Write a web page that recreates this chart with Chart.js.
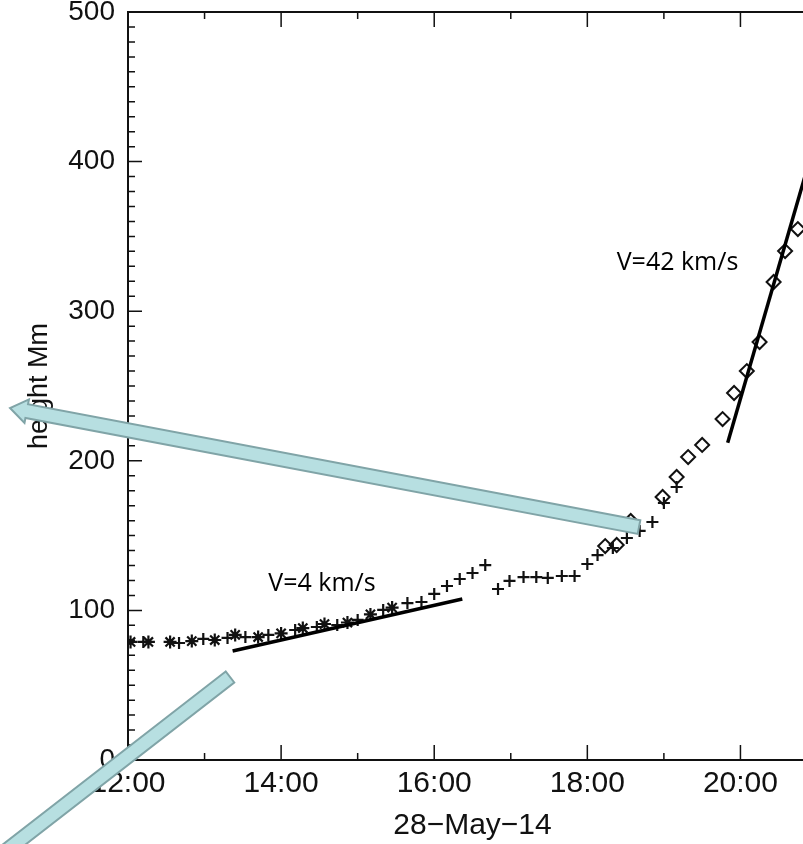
<!DOCTYPE html>
<html>
<head>
<meta charset="utf-8">
<script src="https://cdn.jsdelivr.net/npm/chart.js@4.4.1/dist/chart.umd.min.js"></script>
<style>
  html, body { margin: 0; padding: 0; background: #fff; overflow: hidden; }
  #wrap { width: 830px; height: 844px; }
</style>
</head>
<body>
<div id="wrap"><canvas id="chart" width="830" height="844"></canvas></div>
<script>
// asterisk track
const starTimes = ["12:02", "12:16", "12:33", "12:50", "13:08", "13:24", "13:42", "14:00", "14:17", "14:34", "14:52", "15:10", "15:27"]
const starHeights = [78.9, 78.9, 78.9, 79.5, 80.2, 83.6, 82.2, 84.6, 88.2, 90.9, 91.9, 97.3, 101.9]

// plus track
const plusTimes = ["12:12", "12:40", "12:59", "13:18", "13:32", "13:50", "14:11", "14:28", "14:44", "15:00",
  "15:20", "15:39", "15:50", "16:00", "16:10", "16:20", "16:30", "16:40", "16:50", "16:59",
  "17:10", "17:20", "17:29", "17:40", "17:50", "18:00", "18:08", "18:20", "18:31", "18:41",
  "18:51", "19:00", "19:10"]
const plusHeights = [78.9, 78.2, 80.9, 81.6, 82.2, 83.6, 86.9, 88.9, 90.2, 93.6,
  100.3, 104.9, 105.6, 111.0, 116.3, 121.0, 125.0, 130.3, 114.3, 119.7,
  122.3, 122.3, 121.7, 123.0, 123.0, 131.0, 137.0, 141.7, 148.4, 153.1,
  159.1, 171.8, 182.5]

// diamond track
const diamondTimes = ["18:14", "18:23", "18:34", "18:59", "19:10", "19:19", "19:30", "19:46", "19:55", "20:05", "20:15", "20:26", "20:35", "20:45"]
const diamondHeights = [143.0, 143.7, 159.8, 175.8, 189.2, 202.5, 210.6, 227.9, 245.3, 260.0, 279.4, 319.5, 340.2, 354.9]

// linear fits
const slowFitTimes = ["13:22", "16:22"]
const slowFitHeights = [72.9, 107.6]
const fastFitTimes = ["19:50", "21:00"]
const fastFitHeights = [212, 418]

const yTicks = [0, 100, 200, 300, 400, 500]

// annotations, in data units (hours, Mm)
const labels = [
  { text: "V=4 km/s", t: "13:50", h: 113 },
  { text: "V=42 km/s", t: "18:23", h: 327.5 }
]
const arrows = [
  { from: [18.675, 155.7], to: [10.459, 235.3], head: true },
  { from: [13.332, 55.5], to: [10.067, -74.2], head: false }
]

function hours(s) {
  const [h, m] = s.split(":").map(Number)
  return h + m / 60
}
function pts(times, heights) {
  return times.map((t, i) => ({ x: hours(t), y: heights[i] }))
}

function drawArrow(ctx, x1, y1, x2, y2, head) {
  const len = Math.hypot(x2 - x1, y2 - y1)
  const ux = (x2 - x1) / len, uy = (y2 - y1) / len
  const nx = -uy, ny = ux
  const sw = 7, hw = 12, hl = head ? 17 : 0
  const bx = x2 - ux * hl, by = y2 - uy * hl
  ctx.beginPath()
  ctx.moveTo(x1 + nx * sw, y1 + ny * sw)
  ctx.lineTo(bx + nx * sw, by + ny * sw)
  if (head) {
    ctx.lineTo(bx + nx * hw, by + ny * hw)
    ctx.lineTo(x2, y2)
    ctx.lineTo(bx - nx * hw, by - ny * hw)
  }
  ctx.lineTo(bx - nx * sw, by - ny * sw)
  ctx.lineTo(x1 - nx * sw, y1 - ny * sw)
  ctx.closePath()
  ctx.fillStyle = "#b7dfe1"
  ctx.fill()
  ctx.strokeStyle = "#80a4a7"
  ctx.lineWidth = 2
  ctx.stroke()
}

const framePlugin = {
  id: "frame",
  beforeDatasetsDraw(chart) {
    const { ctx, chartArea: a, scales: { x, y } } = chart
    ctx.save()
    ctx.strokeStyle = "#111"
    ctx.lineWidth = 1.5
    ctx.beginPath()
    for (let v = x.min; v <= x.max; v += 1) {
      const px = x.getPixelForValue(v)
      const l = v % 2 === 0 ? 15 : 7
      ctx.moveTo(px, a.bottom); ctx.lineTo(px, a.bottom - l)
      ctx.moveTo(px, a.top); ctx.lineTo(px, a.top + l)
    }
    for (let v = y.min; v <= y.max; v += 10) {
      const py = y.getPixelForValue(v)
      const l = v % 100 === 0 ? 14 : 7
      ctx.moveTo(a.left, py); ctx.lineTo(a.left + l, py)
      ctx.moveTo(a.right, py); ctx.lineTo(a.right - l, py)
    }
    ctx.stroke()
    ctx.lineWidth = 2
    ctx.strokeRect(a.left, a.top, a.width, a.height)
    ctx.restore()
  },
  afterDraw(chart) {
    const { ctx, scales: { x, y } } = chart
    ctx.save()
    ctx.font = "25px 'Open Sans'"
    ctx.fillStyle = "#000"
    ctx.textBaseline = "alphabetic"
    labels.forEach(l => ctx.fillText(l.text, x.getPixelForValue(hours(l.t)), y.getPixelForValue(l.h)))
    arrows.forEach(ar => drawArrow(ctx,
      x.getPixelForValue(ar.from[0]), y.getPixelForValue(ar.from[1]),
      x.getPixelForValue(ar.to[0]), y.getPixelForValue(ar.to[1]), ar.head))
    ctx.restore()
  }
}

const marker = (style, r, w) => ({
  showLine: false,
  pointStyle: style,
  pointRadius: r,
  pointBorderColor: "#111",
  pointBackgroundColor: "rgba(0,0,0,0)",
  pointBorderWidth: w
})

new Chart(document.getElementById("chart"), {
  type: "scatter",
  data: {
    datasets: [
      { data: pts(slowFitTimes, slowFitHeights), showLine: true, borderColor: "#000", borderWidth: 3.5, pointRadius: 0 },
      { data: pts(fastFitTimes, fastFitHeights), showLine: true, borderColor: "#000", borderWidth: 3.5, pointRadius: 0 },
      { data: pts(starTimes, starHeights), ...marker("star", 6.5, 2.2) },
      { data: pts(plusTimes, plusHeights), ...marker("cross", 6, 2.2) },
      { data: pts(diamondTimes, diamondHeights), ...marker("rectRot", 7, 2) }
    ]
  },
  options: {
    responsive: false,
    animation: false,
    devicePixelRatio: 1,
    layout: { padding: { top: 12, right: 13, left: 0, bottom: 0 } },
    plugins: { legend: { display: false }, tooltip: { enabled: false } },
    scales: {
      x: {
        type: "linear",
        min: 12,
        max: 21,
        grid: { display: false, drawTicks: false },
        border: { display: false },
        afterFit(s) { s.height = 84; s.paddingLeft = 0; s.paddingRight = 0 },
        ticks: {
          stepSize: 2,
          includeBounds: false,
          autoSkip: false,
          maxRotation: 0,
          padding: 6,
          color: "#111",
          font: { family: "'Liberation Sans'", size: 30 },
          callback: v => `${v}:00`
        },
        title: {
          display: true,
          text: "28−May−14",
          color: "#111",
          padding: 0,
          font: { family: "'Liberation Sans'", size: 30 }
        }
      },
      y: {
        min: 0,
        max: 500,
        grid: { display: false, drawTicks: false },
        border: { display: false },
        afterFit(s) { s.width = 128; s.paddingTop = 0; s.paddingBottom = 0 },
        afterBuildTicks(s) { s.ticks = yTicks.map(v => ({ value: v })) },
        ticks: {
          padding: 13,
          color: "#111",
          font: { family: "'Liberation Sans'", size: 28 }
        },
        title: {
          display: true,
          text: "height Mm",
          color: "#111",
          padding: { top: 23, bottom: 0 },
          font: { family: "'Liberation Sans'", size: 27 }
        }
      }
    }
  },
  plugins: [framePlugin]
})
</script>
</body>
</html>
